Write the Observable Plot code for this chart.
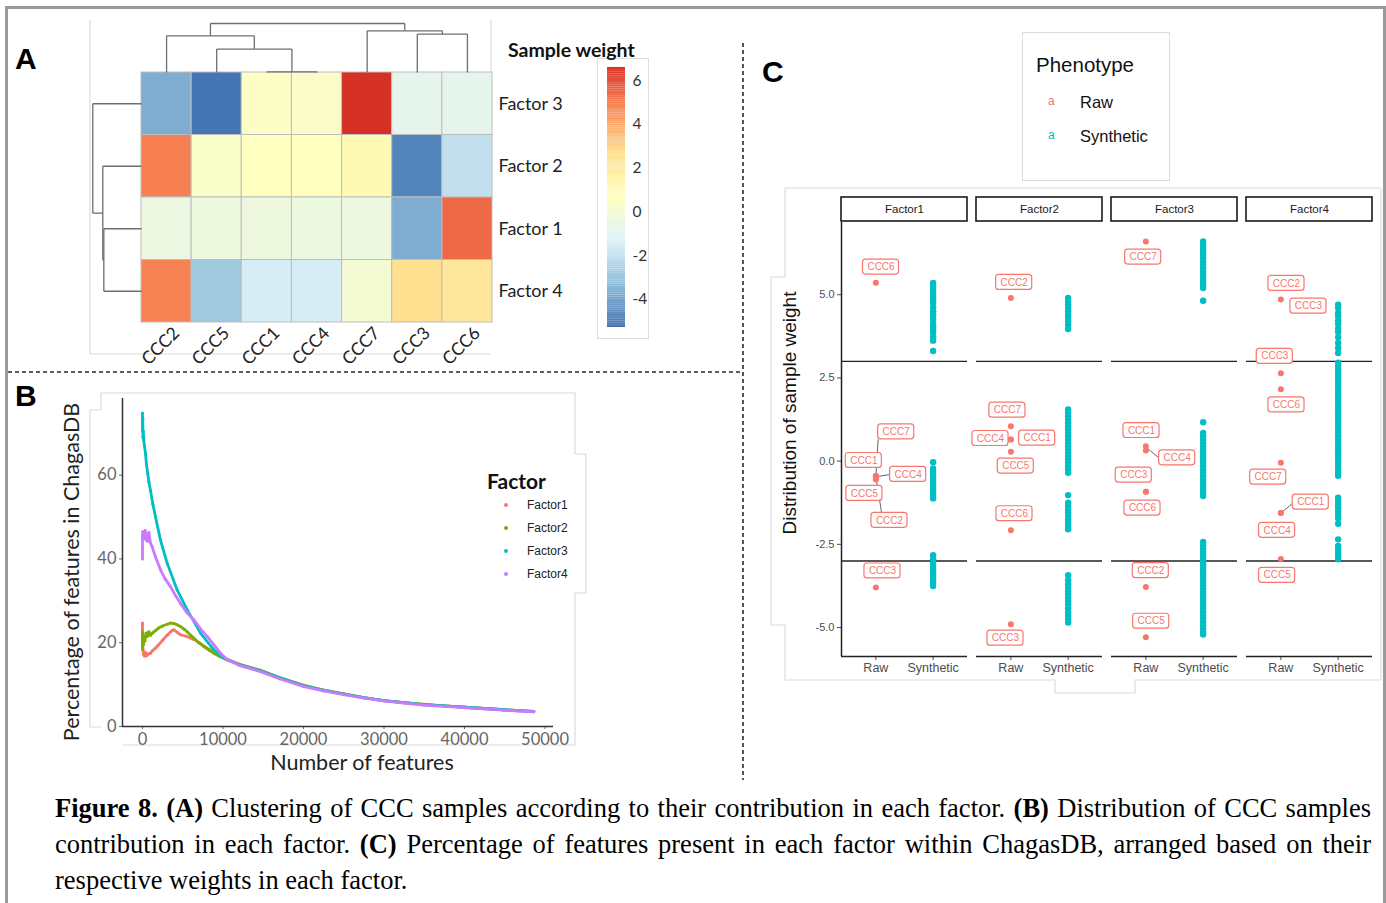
<!DOCTYPE html>
<html><head><meta charset="utf-8">
<script src="https://cdn.jsdelivr.net/npm/d3@7"></script>
<script src="https://cdn.jsdelivr.net/npm/@observablehq/plot@0.6"></script>
<style>
html,body{margin:0;padding:0;background:#fff;}
body{width:1386px;height:903px;position:relative;overflow:hidden;font-family:"Liberation Sans",Arial,sans-serif;color:#111;}
.a{position:absolute;}
.a svg{display:block;overflow:visible;max-width:none;}
.t{position:absolute;line-height:1;white-space:nowrap;}
</style></head><body>
<script>
// ---------------- DATA ----------------
const samples = ["CCC1","CCC2","CCC3","CCC4","CCC5","CCC6","CCC7"];
const factors = ["Factor1","Factor2","Factor3","Factor4"];
const phenotypes = ["Raw","Synthetic"];
// raw sample weights (order = samples)
const weightF1 = [-0.45, -0.55, -3.80, -0.50, -0.45, 5.36, -0.48];
const weightF2 = [0.65, 4.90, -4.90, 0.65, 0.28, -2.08, 1.05];
const weightF3 = [0.45, -3.78, -0.92, 0.32, -5.29, -0.92, 6.60];
const weightF4 = [-1.56, 4.86, 2.64, -1.56, -2.94, 2.16, -0.05];

// heatmap ordering (from clustering) and dendrograms: [left, right, height]
const colOrder = ["CCC2","CCC5","CCC1","CCC4","CCC7","CCC3","CCC6"];
const rowOrder = ["Factor3","Factor2","Factor1","Factor4"];
const rowLabels = ["Factor 3","Factor 2","Factor 1","Factor 4"];
const colTree = [["CCC2", ["CCC5", ["CCC1","CCC4",0.14], 4.78], 7.49], ["CCC7", ["CCC3","CCC6",7.84], 8.51], 10];
const rowTree = ["Factor3", ["Factor2", ["Factor1","Factor4",7.74], 7.95], 10];
const heatPalette = ["#4575B4","#91BFDB","#E0F3F8","#FFFFBF","#FEE090","#FC8D59","#D73027"];
const colorbarTicks = [6,4,2,0,-2,-4];

// panel B: percentage of features vs number of features
const curveF1 = [[0,24.7],[0,23.2],[0,21],[30,19.5],[80,18.2],[150,17.2],[250,16.8],[400,17.6],[550,16.9],[700,17.3],[994,17.5],[1300,18.2],[1615,18.7],[2000,19.5],[2500,20.6],[3064,21.8],[3600,22.8],[3900,23.1],[4300,22.5],[4720,21.9],[5500,21.5],[6373,20.8],[7200,19.8],[8030,18.7],[8860,17.8],[9700,16.8],[10500,16.0],[12000,14.9],[14658,13.4],[17000,11.7],[20040,9.8],[22500,8.7],[25010,7.8],[27500,6.9],[29975,6.2],[32500,5.7],[34940,5.3],[37500,4.9],[40000,4.6],[42500,4.3],[44880,4.0],[46700,3.8],[48600,3.6]];
const curveF2 = [[0,18.5],[0,22.5],[20,20.2],[60,21.8],[120,19.6],[200,21.2],[300,20.4],[450,22.3],[600,21.5],[800,22.6],[994,21.8],[1300,22.4],[1615,22.9],[2000,23.5],[2500,24.0],[3064,24.4],[3500,24.7],[3900,24.6],[4300,24.3],[4720,23.9],[5200,23.2],[5548,22.6],[6000,21.8],[6373,21.1],[7000,20.0],[7620,19.1],[8300,18.2],[8860,17.5],[9600,16.7],[10500,15.9],[12000,14.8],[14658,13.4],[17000,11.7],[20040,9.8],[22500,8.7],[25010,7.8],[27500,6.9],[29975,6.2],[32500,5.7],[34940,5.3],[37500,4.9],[40000,4.6],[42500,4.3],[44880,4.0],[46700,3.8],[48600,3.6]];
const curveF3 = [[0,74.8],[0,72],[20,70.5],[40,73.5],[60,69],[100,70.5],[150,68.5],[250,67],[373,65.2],[500,62.5],[659,60.4],[800,58.3],[994,56.4],[1300,53],[1615,50.1],[2236,44.5],[3064,39.0],[4306,32.6],[5548,27.9],[7205,22.3],[8860,18.3],[10100,16.4],[12000,14.8],[14658,13.3],[17000,11.6],[20040,9.7],[22500,8.6],[25010,7.7],[27500,6.9],[29975,6.2],[32500,5.7],[34940,5.2],[37500,4.9],[40000,4.6],[42500,4.3],[44880,4.0],[46700,3.8],[48600,3.6]];
const curveF4 = [[0,40],[0,42.5],[0,45.5],[30,46.5],[80,44.8],[150,46],[250,45],[350,46.8],[450,44.5],[550,45.8],[650,44.2],[800,46.3],[994,43.8],[1200,42.9],[1615,40.5],[2236,37.4],[2800,35.3],[3478,33.4],[4100,31.3],[4720,29.4],[5500,27.2],[6373,25.5],[7200,23.3],[8030,21.5],[8900,19.4],[9690,17.5],[10500,16.0],[12000,14.6],[14658,13.1],[17000,11.4],[20040,9.5],[22500,8.5],[25010,7.6],[27500,6.8],[29975,6.1],[32500,5.6],[34940,5.1],[37500,4.8],[40000,4.5],[42500,4.2],[44880,3.9],[46700,3.7],[48600,3.5]];
const factorColors = ["#F8766D","#7CAE00","#00BFC4","#C77CFF"];
const xTicksB = [0,10000,20000,30000,40000,50000];
const yTicksB = [0,20,40,60];

// panel C: synthetic sample weights
const synF1 = [5.35,5.25,5.15,5.05,4.95,4.85,4.75,4.62,4.5,4.4,4.28,4.15,4.05,3.95,3.85,3.72,3.62,3.31,-0.03,-0.22,-0.32,-0.42,-0.52,-0.62,-0.72,-0.82,-0.92,-1.02,-1.12,-2.83,-2.95,-3.05,-3.15,-3.25,-3.35,-3.45,-3.55,-3.65,-3.75];
const synF2 = [4.9,4.8,4.7,4.6,4.5,4.4,4.3,4.2,4.1,3.97,1.55,1.45,1.35,1.25,1.15,1.05,0.95,0.85,0.75,0.65,0.55,0.45,0.35,0.25,0.15,0.05,-0.05,-0.15,-0.25,-0.35,-1.02,-1.25,-1.35,-1.45,-1.55,-1.65,-1.75,-1.85,-1.95,-2.05,-3.43,-3.58,-3.7,-3.8,-3.9,-4.0,-4.1,-4.2,-4.3,-4.42,-4.55,-4.65,-4.75,-4.85];
const synF3 = [6.6,6.5,6.4,6.3,6.2,6.1,6.0,5.9,5.8,5.7,5.6,5.5,5.4,5.3,5.2,4.82,1.17,0.85,0.75,0.65,0.55,0.45,0.35,0.25,0.15,0.05,-0.05,-0.15,-0.25,-0.35,-0.45,-0.55,-0.65,-0.75,-0.85,-0.95,-1.05,-2.43,-2.53,-2.63,-2.73,-2.83,-2.93,-3.03,-3.13,-3.23,-3.33,-3.43,-3.53,-3.63,-3.73,-3.83,-3.93,-4.03,-4.13,-4.23,-4.33,-4.43,-4.53,-4.63,-4.73,-4.83,-4.93,-5.03,-5.13,-5.21];
const synF4 = [4.7,4.6,4.45,4.35,4.22,4.12,3.98,3.88,3.72,3.55,3.4,3.25,2.96,2.86,2.76,2.66,2.56,2.46,2.36,2.26,2.16,2.06,1.96,1.86,1.76,1.66,1.56,1.46,1.36,1.26,1.16,1.06,0.96,0.86,0.76,0.66,0.56,0.46,0.36,0.26,0.16,0.06,-0.04,-0.14,-0.24,-0.34,-0.44,-1.1,-1.2,-1.3,-1.4,-1.5,-1.6,-1.72,-1.88,-2.35,-2.55,-2.65,-2.75,-2.85,-2.95];
// repel labels: [sample, x (1 = Raw), y]
const labelsF1 = [["CCC6",1.09,5.83],["CCC7",1.355,0.88],["CCC1",0.79,0.02],["CCC4",1.564,-0.40],["CCC5",0.80,-0.97],["CCC2",1.238,-1.78],["CCC3",1.116,-3.30]];
const labelsF2 = [["CCC2",1.058,5.37],["CCC7",0.94,1.53],["CCC4",0.644,0.68],["CCC1",1.459,0.69],["CCC5",1.086,-0.15],["CCC6",1.063,-1.58],["CCC3",0.906,-5.32]];
const labelsF3 = [["CCC7",0.953,6.13],["CCC1",0.924,0.92],["CCC4",1.547,0.10],["CCC3",0.789,-0.42],["CCC6",0.941,-1.41],["CCC2",1.086,-3.29],["CCC5",1.093,-4.81]];
const labelsF4 = [["CCC2",1.098,5.34],["CCC3",1.482,4.66],["CCC3",0.894,3.15],["CCC6",1.098,1.69],["CCC7",0.779,-0.48],["CCC1",1.522,-1.23],["CCC4",0.935,-2.08],["CCC5",0.935,-3.43]];
// repel segments: [factor, point y, label-edge x, label-edge y]
const connectors = [["Factor1",-0.47,1.04,0.66],["Factor1",-0.47,1.25,-0.40],["Factor1",-0.47,1.10,-1.55],["Factor3",0.42,1.227,0.10],["Factor4",-1.56,1.21,-1.26]];
const thresholds = [3,-3];
const yTicksC = [-5,-2.5,0,2.5,5];

// ---------------- HELPERS ----------------
const root = document.body;
function box(css, html){ const d=document.createElement("div"); d.className="a"; d.style.cssText=css; if(html!=null) d.innerHTML=html; root.appendChild(d); return d; }
function txt(css, html){ const d=document.createElement("div"); d.className="t"; d.style.cssText=css; d.innerHTML=html; root.appendChild(d); return d; }
function place(node, left, top, w, h){ const d=box(`left:${left}px;top:${top}px;width:${w}px;height:${h}px;`); d.appendChild(node); return d; }
const NS="http://www.w3.org/2000/svg";

// ---------------- DECORATION (frame, separators, image borders) ----------------
box("left:5px;top:6px;width:1375px;height:910px;border:3px solid #9a9a9a;");
(function(){
  const s=document.createElementNS(NS,"svg"); s.setAttribute("width",1386); s.setAttribute("height",903);
  s.style.cssText="position:absolute;left:0;top:0;";
  const add=(pts,st)=>{const p=document.createElementNS(NS,"polyline");p.setAttribute("points",pts);p.setAttribute("fill","none");for(const k in st)p.setAttribute(k,st[k]);s.appendChild(p);};
  const light={stroke:"#dcdcdc","stroke-width":1.2};
  add("90,20 90,354 490,354",light); add("491,20 491,72",light);
  add("101,393 575,393 575,454 586,454 586,593 575,593 575,745 123,745",light);
  add("101,393 101,410 90,410 90,727 101,727",light);
  add("785,188 1381,188 1381,680 1135,680 1135,693 1055,693 1055,680 785,680 785,625 771,625 771,277 785,277 785,188",light);
  add("743,43 743,780",{stroke:"#2b2b2b","stroke-width":1.6,"stroke-dasharray":"4,3"});
  add("8,372 743,372",{stroke:"#2b2b2b","stroke-width":1.6,"stroke-dasharray":"4,3"});
  root.appendChild(s);
})();

// ---------------- PANEL A ----------------
const weightTable = {Factor1:weightF1, Factor2:weightF2, Factor3:weightF3, Factor4:weightF4};
const allW = [...weightF1,...weightF2,...weightF3,...weightF4];
const wMin = d3.min(allW), wMax = d3.max(allW);
const heatInterp = d3.piecewise(d3.interpolateRgb, heatPalette);
const cells = rowOrder.flatMap((f,i)=>colOrder.map((s,j)=>({i,j,v:weightTable[f][samples.indexOf(s)]})));

function dendro(tree, leafPos, scale, horizontalTop){
  const segs=[];
  function walk(n){
    if(typeof n==="string") return {p:leafPos(n), h:0};
    const a=walk(n[0]), b=walk(n[1]), h=n[2];
    const H=-h/10*scale, Ha=-a.h/10*scale, Hb=-b.h/10*scale;
    if(horizontalTop){
      segs.push({x1:a.p,y1:Ha,x2:a.p,y2:H},{x1:b.p,y1:Hb,x2:b.p,y2:H},{x1:a.p,y1:H,x2:b.p,y2:H});
    } else {
      segs.push({y1:a.p,x1:Ha,y2:a.p,x2:H},{y1:b.p,x1:Hb,y2:b.p,x2:H},{y1:a.p,x1:H,y2:b.p,x2:H});
    }
    return {p:(a.p+b.p)/2, h};
  }
  walk(tree); return segs;
}
const topSegs = dendro(colTree, s=>colOrder.indexOf(s)+0.5, 0.784, true);
const leftSegs = dendro(rowTree, f=>rowOrder.indexOf(f)+0.5, 0.971, false);

const heat = Plot.plot({
  width:660, height:370, marginLeft:141, marginRight:168, marginTop:72, marginBottom:48,
  style:{background:"transparent", overflow:"visible"},
  x:{domain:[0,7], axis:null}, y:{domain:[0,4], reverse:true, axis:null},
  color:{type:"linear", domain:[wMin,wMax], interpolate:heatInterp},
  marks:[
    Plot.rect(cells,{x1:"j", x2:d=>d.j+1, y1:"i", y2:d=>d.i+1, fill:"v", stroke:"#bdbdbd", strokeWidth:1}),
    Plot.link([...topSegs,...leftSegs],{x1:"x1",y1:"y1",x2:"x2",y2:"y2",stroke:"#6e6e6e",strokeWidth:1.3}),
    Plot.text(rowLabels,{x:()=>7, y:(d,i)=>i+0.5, text:d=>d, textAnchor:"start", dx:6, fontSize:18, fontFamily:"Lato", fill:"#222"}),
    Plot.text(colOrder,{x:(d,j)=>j+0.5, y:()=>4, text:d=>d, rotate:-45, textAnchor:"end", lineAnchor:"top", dy:3, dx:5, fontSize:17.5, fontFamily:"Lato", fill:"#222"})
  ]
});
place(heat,0,0,660,370);

// colorbar
const cbSteps = d3.range(120).map(k=>wMin+(wMax-wMin)*k/120);
const cbStep = (wMax-wMin)/120;
const cbar = Plot.plot({
  width:60, height:280, marginLeft:7, marginRight:35, marginTop:10, marginBottom:10,
  style:{background:"transparent", overflow:"visible", fontFamily:"Lato", fontSize:"15.5px", color:"#333"},
  x:{domain:[0,1], axis:null},
  y:{domain:[wMin,wMax], axis:"right", ticks:colorbarTicks, tickSize:0, tickPadding:7, tickFormat:d=>String(d), label:null},
  color:{type:"linear", domain:[wMin,wMax], interpolate:heatInterp},
  marks:[Plot.rect(cbSteps,{x1:()=>0,x2:()=>1,y1:d=>d,y2:d=>d+cbStep*1.02,fill:d=>d})]
});
box("left:597px;top:58px;width:50px;height:279px;border:1px solid #dedede;");
place(cbar,600,57,60,280);
txt("left:508px;top:40px;font-family:Lato;font-weight:700;font-size:19.5px;color:#111;","Sample weight");

// ---------------- PANEL B ----------------
const xDomB=[-2480,51050], yDomB=[0,78.3];
const curves=[curveF1,curveF2,curveF3,curveF4];
const bMarks=[
  Plot.ruleY([yDomB[0]],{stroke:"#333",strokeWidth:1.5}),
  Plot.ruleX([xDomB[0]],{stroke:"#333",strokeWidth:1.5})
];
curves.forEach((c,k)=>{
  bMarks.push(Plot.line(c,{x:d=>d[0],y:d=>d[1],stroke:factorColors[k],strokeWidth:2.8}));
  bMarks.push(Plot.dot(c,{x:d=>d[0],y:d=>d[1],r:1.5,fill:factorColors[k]}));
});
const plotB = Plot.plot({
  width:530, height:400, marginLeft:62, marginTop:13, marginRight:37, marginBottom:59,
  style:{background:"transparent", overflow:"visible", fontFamily:"Lato", fontSize:"16.5px", color:"#666"},
  x:{domain:xDomB, ticks:xTicksB, tickFormat:d=>String(d), tickSize:3, tickPadding:4, label:null},
  y:{domain:yDomB, ticks:yTicksB, tickFormat:d=>String(d), tickSize:3, tickPadding:3, label:null},
  marks:bMarks
});
place(plotB,60,385,530,400);
txt("left:72px;top:572px;transform:translate(-50%,-50%) rotate(-90deg);font-family:Lato;font-size:21.5px;color:#222;","Percentage of features in ChagasDB");
txt("left:362px;top:763px;transform:translate(-50%,-50%);font-family:Lato;font-size:21.5px;color:#222;","Number of features");
txt("left:487px;top:470px;font-family:Lato;font-weight:700;font-size:21px;color:#111;","Factor");
factors.forEach((f,k)=>{
  const cy=505+23*k;
  box(`left:${504}px;top:${cy-2}px;width:4px;height:4px;border-radius:2px;background:${factorColors[k]};`);
  txt(`left:527px;top:${cy-6}px;font-size:12px;color:#222;`,f);
});

// ---------------- PANEL C ----------------
const rawRows = factors.flatMap(f=>samples.map((s,i)=>({factor:f, p:1, y:weightTable[f][i]})));
const synTable={Factor1:synF1,Factor2:synF2,Factor3:synF3,Factor4:synF4};
const synRows = factors.flatMap(f=>synTable[f].map(v=>({factor:f, p:2, y:v})));
const labTable={Factor1:labelsF1,Factor2:labelsF2,Factor3:labelsF3,Factor4:labelsF4};
const labRows = factors.flatMap(f=>labTable[f].map(r=>({factor:f, name:r[0], x:r[1], y:r[2]})));
const conRows = connectors.map(r=>({factor:r[0], y1:r[1], x2:r[2], y2:r[3]}));
const xDomC=[0.4,2.6], yDomC=[-5.87,7.17];
const plotC = Plot.plot({
  width:615, height:500, marginLeft:71, marginRight:13, marginTop:32, marginBottom:34,
  style:{background:"transparent", overflow:"visible", fontFamily:"Liberation Sans", fontSize:"11px", color:"#4d4d4d"},
  fx:{domain:factors, paddingInner:0.067, paddingOuter:0, axis:null, label:null},
  x:{domain:xDomC, label:null},
  y:{domain:yDomC, label:null},
  marks:[
    Plot.axisX({ticks:[1,2], tickFormat:d=>phenotypes[d-1], tickSize:4, tickPadding:3, fontSize:12.5, label:null}),
    Plot.axisY({ticks:yTicksC, tickFormat:d=>d.toFixed(1), tickSize:4, tickPadding:3, fontSize:11, label:null}),
    Plot.ruleY([yDomC[0]],{stroke:"#222",strokeWidth:1.5}),
    Plot.ruleX([{f:"Factor1"}],{x:()=>xDomC[0], fx:"f", stroke:"#222", strokeWidth:1.5}),
    Plot.ruleY(thresholds,{stroke:"#222",strokeWidth:1.3}),
    Plot.dot(synRows,{x:"p",y:"y",fx:"factor",r:3.2,fill:"#00BFC4"}),
    Plot.link(conRows,{x1:()=>1,y1:"y1",x2:"x2",y2:"y2",fx:"factor",stroke:"#666",strokeWidth:1}),
    Plot.dot(rawRows,{x:"p",y:"y",fx:"factor",r:3,fill:"#F8766D"}),
    Plot.rect(labRows,{x1:d=>d.x-0.315,x2:d=>d.x+0.315,y1:d=>d.y-0.225,y2:d=>d.y+0.225,fx:"factor",fill:"white",stroke:"#F8766D",strokeWidth:1.2,rx:3}),
    Plot.text(labRows,{x:"x",y:"y",text:"name",fx:"factor",fill:"#F8766D",fontSize:10})
  ]
});
place(plotC,770,190,615,500);
const strips = Plot.plot({
  width:615, height:26, marginLeft:71, marginRight:13, marginTop:1, marginBottom:1,
  style:{background:"transparent", overflow:"visible", fontFamily:"Liberation Sans", fontSize:"11.5px", color:"#1a1a1a"},
  x:{type:"band", domain:factors, paddingInner:0.067, paddingOuter:0, axis:null}, y:{axis:null},
  marks:[
    Plot.cell(factors,{x:d=>d, fill:"white", stroke:"#1a1a1a", strokeWidth:1.6}),
    Plot.text(factors,{x:d=>d, text:d=>d, fontSize:11.5, fill:"#1a1a1a"})
  ]
});
place(strips,770,196,615,26);
txt("left:789px;top:413px;transform:translate(-50%,-50%) rotate(-90deg);font-size:19px;color:#111;","Distribution of sample weight");
// phenotype legend
box("left:1022px;top:32px;width:146px;height:147px;border:1px solid #dcdcdc;");
txt("left:1036px;top:55px;font-size:20.5px;color:#111;","Phenotype");
phenotypes.forEach((p,k)=>{
  const cy=102+34*k;
  txt(`left:1048px;top:${cy-7}px;font-size:12px;color:${k?"#00BFC4":"#F8766D"};`,"a");
  txt(`left:1080px;top:${cy-8}px;font-size:16.5px;color:#111;`,p);
});

// ---------------- PANEL LETTERS ----------------
txt("left:15px;top:44px;font-weight:700;font-size:30px;color:#000;","A");
txt("left:15px;top:381px;font-weight:700;font-size:30px;color:#000;","B");
txt("left:762px;top:57px;font-weight:700;font-size:30px;color:#000;","C");

// ---------------- CAPTION ----------------
const capLines = [
 '<b>Figure 8.</b> <b>(A)</b> Clustering of CCC samples according to their contribution in each factor. <b>(B)</b> Distribution of CCC samples',
 'contribution in each factor. <b>(C)</b> Percentage of features present in each factor within ChagasDB, arranged based on their',
 'respective weights in each factor.'];
let capScale=1;
capLines.forEach((h,k)=>{
  const d=txt(`left:55px;top:${790+36*k}px;font-family:'Liberation Serif',serif;font-size:26.5px;line-height:36px;color:#000;transform-origin:0 0;`,h);
  const w=d.getBoundingClientRect().width;
  if(k<2){
    if(w>1316){capScale=Math.min(capScale,1316/w); d.style.transform=`scaleX(${1316/w})`;}
    else{const n=(d.textContent.match(/ /g)||[]).length; d.style.wordSpacing=((1316-w)/n)+"px";}
  } else if(capScale<1){ d.style.transform=`scaleX(${capScale})`; }
});
</script>
</body></html>
